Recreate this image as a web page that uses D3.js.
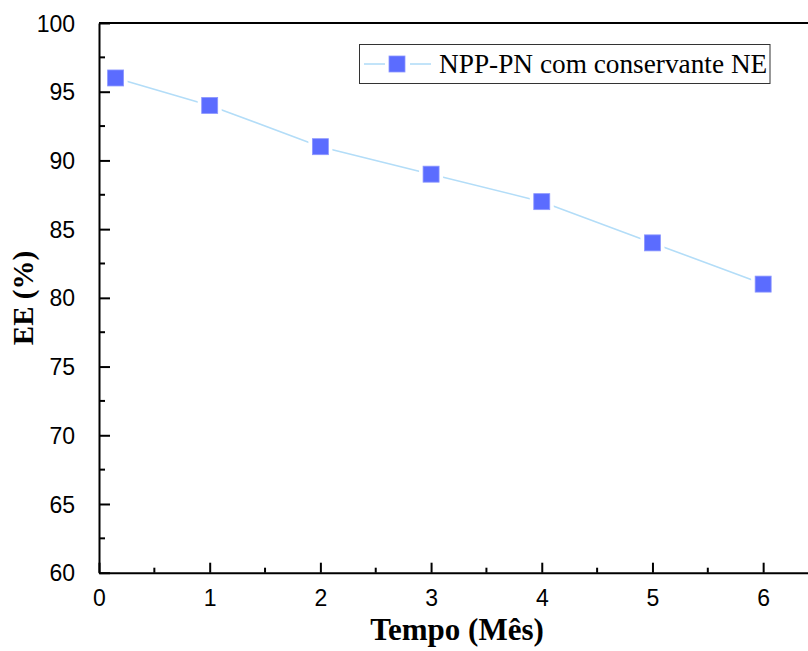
<!DOCTYPE html>
<html><head><meta charset="utf-8">
<script src="https://cdn.jsdelivr.net/npm/d3@7"></script>
<style>html,body{margin:0;padding:0;background:#fff;overflow:hidden}</style>
</head><body>
<script>
const months = [0.15, 1, 2, 3, 4, 5, 6];
const eeValues = [96, 94, 91, 89, 87, 84, 81];
const xTicks = [0, 1, 2, 3, 4, 5, 6];
const yTicks = [60, 65, 70, 75, 80, 85, 90, 95, 100];
const seriesName = "NPP-PN com conservante NE";
const xTitle = "Tempo (Mês)";
const yTitle = "EE (%)";

const W = 808, H = 651;
const svg = d3.select("body").append("svg").attr("width", W).attr("height", H);
const x = d3.scaleLinear().domain([0, 6.5]).range([99, 818.5]);
const y = d3.scaleLinear().domain([60, 100]).range([572.7, 23]);

const markerColor = "#5B6CFF", lineColor = "#B3DDF8";

// frame top
svg.append("line").attr("x1", x(0)).attr("x2", x(6.5)).attr("y1", y(100)).attr("y2", y(100))
  .attr("stroke", "#000").attr("stroke-width", 2);

// x axis
const xAxis = svg.append("g").attr("transform", `translate(0,${y(60)})`)
  .call(d3.axisBottom(x).tickValues(xTicks).tickFormat(d3.format("d")).tickSizeInner(-10).tickSizeOuter(0).tickPadding(17));
const xMinor = d3.range(0.5, 6.5, 1);
xAxis.selectAll(".minor").data(xMinor).enter().append("line").attr("class", "minor")
  .attr("x1", d => x(d)).attr("x2", d => x(d)).attr("y1", 0).attr("y2", -5).attr("stroke", "#000").attr("stroke-width", 2);

// y axis
const yAxis = svg.append("g").attr("transform", `translate(${x(0)},0)`)
  .call(d3.axisLeft(y).tickValues(yTicks).tickSizeInner(-11).tickSizeOuter(0).tickPadding(24));
const yMinor = d3.range(62.5, 100, 5);
yAxis.selectAll(".minor").data(yMinor).enter().append("line").attr("class", "minor")
  .attr("y1", d => y(d)).attr("y2", d => y(d)).attr("x1", 0).attr("x2", 6).attr("stroke", "#000").attr("stroke-width", 2);

svg.selectAll(".domain").attr("stroke", "#000").attr("stroke-width", 2);
svg.selectAll(".tick line").attr("stroke", "#000").attr("stroke-width", 2);
svg.selectAll(".tick text").attr("font-family", "Liberation Sans, Arial, sans-serif").attr("font-size", 23).attr("fill", "#000");
yAxis.selectAll(".tick text").attr("dy", "0.35em");

// line
const pts = months.map((m, i) => [m, eeValues[i]]);
svg.append("path").datum(pts)
  .attr("d", d3.line().x(d => x(d[0])).y(d => y(d[1])))
  .attr("fill", "none").attr("stroke", lineColor).attr("stroke-width", 1.6);

// marker gaps + markers
const ms = 16;
svg.selectAll(".gap").data(pts).enter().append("rect")
  .attr("x", d => x(d[0]) - ms / 2 - 4).attr("y", d => y(d[1]) - ms / 2 - 4)
  .attr("width", ms + 8).attr("height", ms + 8).attr("fill", "#fff");
svg.selectAll(".mk").data(pts).enter().append("rect")
  .attr("x", d => x(d[0]) - ms / 2).attr("y", d => y(d[1]) - ms / 2)
  .attr("width", ms).attr("height", ms).attr("fill", markerColor)
  .attr("stroke", "#8C97FF").attr("stroke-width", 0.8);

// legend
const lg = svg.append("g");
lg.append("rect").attr("x", 359.5).attr("y", 44.5).attr("width", 410.5).attr("height", 39)
  .attr("fill", "#fff").attr("stroke", "#333").attr("stroke-width", 1);
lg.append("line").attr("x1", 364).attr("x2", 385).attr("y1", 64).attr("y2", 64).attr("stroke", lineColor).attr("stroke-width", 1.6);
lg.append("line").attr("x1", 410).attr("x2", 431).attr("y1", 64).attr("y2", 64).attr("stroke", lineColor).attr("stroke-width", 1.6);
lg.append("rect").attr("x", 397 - ms / 2).attr("y", 64 - ms / 2).attr("width", ms).attr("height", ms)
  .attr("fill", markerColor).attr("stroke", "#8C97FF").attr("stroke-width", 0.8);
lg.append("text").attr("x", 439).attr("y", 73).text(seriesName)
  .attr("font-family", "Liberation Serif, Times New Roman, serif").attr("font-size", 27.3).attr("fill", "#000");

// titles
svg.append("text").attr("x", 457).attr("y", 640).attr("text-anchor", "middle").text(xTitle)
  .attr("font-family", "Liberation Serif, Times New Roman, serif").attr("font-weight", "bold").attr("font-size", 31).attr("fill", "#000");
svg.append("text").attr("transform", "translate(33,298) rotate(-90)").attr("text-anchor", "middle").text(yTitle)
  .attr("font-family", "Liberation Serif, Times New Roman, serif").attr("font-weight", "bold").attr("font-size", 29).attr("fill", "#000");
</script>
</body></html>
